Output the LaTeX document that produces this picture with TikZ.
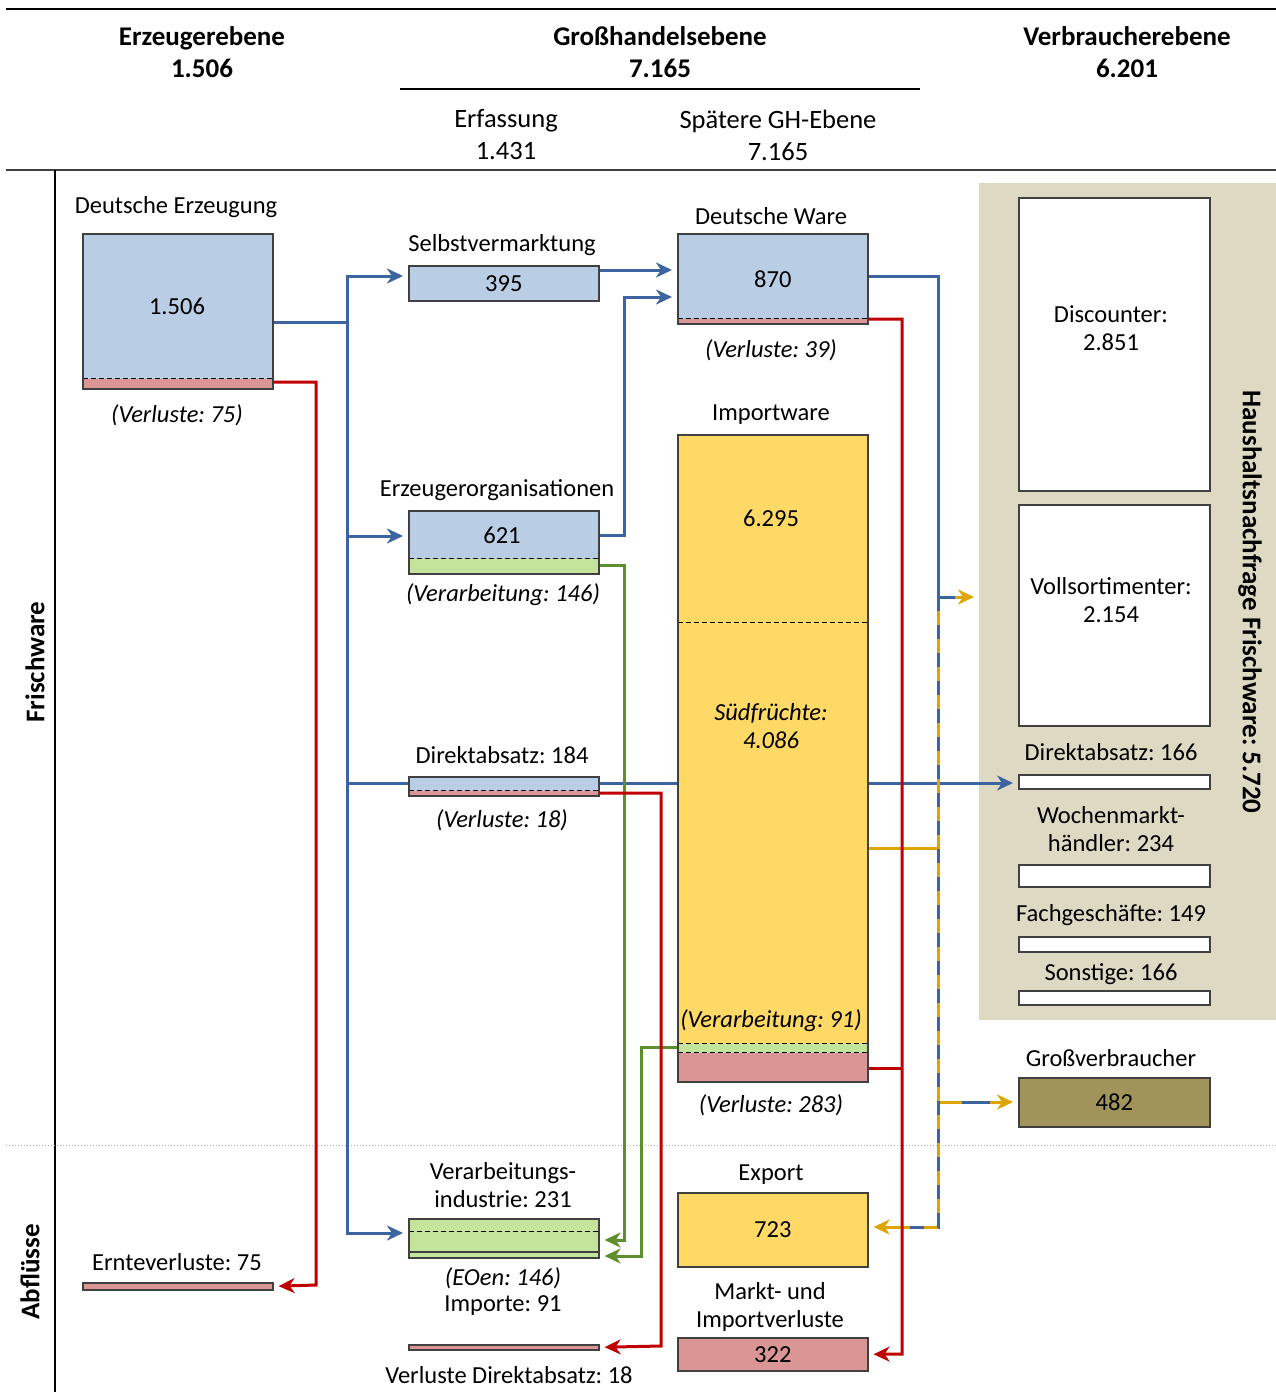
\documentclass[tikz,border=0pt]{standalone}
\usepackage{fontspec}
\setmainfont{Carlito}
\usetikzlibrary{arrows.meta}
\frenchspacing

\definecolor{fillBlue}{RGB}{185,205,229}
\definecolor{fillYellow}{RGB}{255,217,102}
\definecolor{fillRed}{RGB}{217,150,148}
\definecolor{fillGreen}{RGB}{196,228,155}
\definecolor{fillOlive}{RGB}{160,148,90}
\definecolor{panelBeige}{RGB}{221,217,195}
\definecolor{lineBlue}{RGB}{60,100,160}
\definecolor{lineRed}{RGB}{192,0,0}
\definecolor{lineGreen}{RGB}{94,143,44}
\definecolor{lineYellow}{RGB}{222,165,0}
\definecolor{boxGray}{RGB}{64,64,64}

\tikzset{
  bx/.style={draw=boxGray,line width=1.6pt,anchor=north west,minimum width=190pt,inner sep=0pt},
  cutline/.style={black,line width=1pt,dash pattern=on 5pt off 3pt},
  band/.style 2 args={path picture={
    \fill[#1] ([yshift=#2]path picture bounding box.south west) rectangle (path picture bounding box.south east);
    \draw[cutline] ([yshift=#2]path picture bounding box.south west) -- ([yshift=#2]path picture bounding box.south east);}},
  flow/.style={line width=3pt},
  arr/.style={flow,-{Stealth[length=16pt,width=15pt,inset=5pt]},shorten >=5pt},
  head/.style={inner sep=0pt,align=center,font=\bfseries\fontsize{27}{32}\selectfont},
  sub/.style={inner sep=0pt,align=center,font=\fontsize{26.5}{32}\selectfont},
  txt/.style={inner sep=0pt,align=center,font=\fontsize{24.5}{28}\selectfont},
  note/.style={inner sep=0pt,align=center,font=\itshape\fontsize{24.5}{28}\selectfont},
}

\begin{document}
\begin{tikzpicture}[x=1pt,y=-1pt]
\useasboundingbox (0,0) rectangle (1276,1392);

% frame and levels
\draw[line width=1.5pt] (6,9) -- (1276,9);
\draw[line width=1.5pt] (400,89) -- (920,89);
\draw[boxGray,line width=2pt] (6,170) -- (1276,170);
\draw[line width=1.5pt] (55,170) -- (55,1392);
\draw[gray!60,line width=1pt,dotted] (6,1145) -- (1276,1145);

\node[head] (hErz) at (202,52) {Erzeugerebene\\1.506};
\node[head] (hGH) at (660,52) {Großhandelsebene\\7.165};
\node[head] (hVb) at (1127,52) {Verbraucherebene\\6.201};
\node[sub] (hErf) at (506,135) {Erfassung\\1.431};
\node[sub] (hSp) at (778,135) {Spätere GH-Ebene\\7.165};

\node[head,rotate=90] (sFw) at (35,662) {Frischware};
\node[head,rotate=90] (sAb) at (30,1272) {Abflüsse};

% consumer panel
\fill[panelBeige] (979,183) rectangle (1276,1020);
\coordinate (panelIn) at (979,597);
\node[head,rotate=-90] (sHh) at (1250,602) {Haushaltsnachfrage Frischware: 5.720};

% boxes
\node[bx,fill=fillBlue,minimum height=155pt,band={fillRed}{10pt}] (de) at (82,233) {};
\node[bx,fill=fillBlue,minimum height=35pt] (sv) at (408,265) {\fontsize{24.5}{28}\selectfont 395};
\node[bx,fill=fillBlue,minimum height=90pt,band={fillRed}{5pt}] (dw) at (677,233) {\fontsize{24.5}{28}\selectfont 870};
\node[bx,fill=fillBlue,minimum height=63pt,band={fillGreen}{15pt}] (eo) at (408,510) {};
\node[bx,fill=fillBlue,minimum height=19pt,band={fillRed}{5pt}] (da) at (408,776) {};
\node[bx,fill=fillYellow,minimum height=647pt,path picture={
  \fill[fillGreen] ([yshift=38pt]path picture bounding box.south west) rectangle ([yshift=29pt]path picture bounding box.south east);
  \fill[fillRed] ([yshift=29pt]path picture bounding box.south west) rectangle (path picture bounding box.south east);
  \draw[cutline] ([yshift=-188pt]path picture bounding box.north west) -- ([yshift=-188pt]path picture bounding box.north east);
  \draw[cutline] ([yshift=38pt]path picture bounding box.south west) -- ([yshift=38pt]path picture bounding box.south east);
  \draw[cutline] ([yshift=29pt]path picture bounding box.south west) -- ([yshift=29pt]path picture bounding box.south east);}] (iw) at (677,434) {};
\node[bx,fill=fillGreen,minimum height=39pt,path picture={
  \draw[cutline] ([yshift=-13pt]path picture bounding box.north west) -- ([yshift=-13pt]path picture bounding box.north east);
  \draw[boxGray,line width=1.6pt] ([yshift=6pt]path picture bounding box.south west) -- ([yshift=6pt]path picture bounding box.south east);}] (vi) at (408,1218) {};
\node[bx,fill=fillRed,minimum height=7pt] (ev) at (82,1282) {};
\node[bx,fill=fillRed,minimum height=5pt] (vd) at (408,1344) {};
\node[bx,fill=fillYellow,minimum height=74pt] (ex) at (677,1192) {\fontsize{24.5}{28}\selectfont 723};
\node[bx,fill=fillRed,minimum height=33pt] (mv) at (677,1337) {\fontsize{24.5}{28}\selectfont 322};

\node[bx,fill=white,minimum width=191pt,minimum height=293pt] (dc) at (1018,197) {};
\node[bx,fill=white,minimum width=191pt,minimum height=221pt] (vs) at (1018,504) {};
\node[bx,fill=white,minimum width=191pt,minimum height=14pt] (hda) at (1018,774) {};
\node[bx,fill=white,minimum width=191pt,minimum height=22pt] (wm) at (1018,864) {};
\node[bx,fill=white,minimum width=191pt,minimum height=15pt] (fg) at (1018,936) {};
\node[bx,fill=white,minimum width=191pt,minimum height=14pt] (so) at (1018,990) {};
\node[bx,fill=fillOlive,minimum width=191pt,minimum height=49pt] (gv) at (1018,1077) {\fontsize{24.5}{28}\selectfont 482};

% texts
\node[txt] (deT) at (176,207) {Deutsche Erzeugung};
\node[txt] (deV) at (177,306) {1.506};
\node[note] (deL) at (177,415) {(Verluste: 75)};
\node[txt] (svT) at (502,245) {Selbstvermarktung};
\node[txt] (dwT) at (771,216) {Deutsche Ware};
\node[note] (dwL) at (771,350) {(Verluste: 39)};
\node[txt] (iwT) at (771,415) {Importware};
\node[txt] (iwV) at (771,518) {6.295};
\node[note] (iwS) at (771,726) {Südfrüchte:\\4.086};
\node[note] (iwP) at (771,1021) {(Verarbeitung: 91)};
\node[note] (iwL) at (771,1105) {(Verluste: 283)};
\node[txt] (eoT) at (497,490) {Erzeugerorganisationen};
\node[txt] (eoV) at (502,535) {621};
\node[note] (eoP) at (503,595) {(Verarbeitung: 146)};
\node[txt] (daT) at (502,755) {Direktabsatz: 184};
\node[note] (daL) at (502,820) {(Verluste: 18)};
\node[txt] (viT) at (503,1185) {Verarbeitungs-\\industrie: 231};
\node[note] (viE) at (503,1278) {(EOen: 146)};
\node[txt] (viI) at (503,1306) {Importe: 91};
\node[txt] (vdT) at (509,1375) {Verluste Direktabsatz: 18};
\node[txt] (evT) at (177,1262) {Ernteverluste: 75};
\node[txt] (exT) at (771,1175) {Export};
\node[txt] (mvT) at (770,1307) {Markt- und\\Importverluste};
\node[txt] (dcT) at (1111,328) {Discounter:\\2.851};
\node[txt] (vsT) at (1111,600) {Vollsortimenter:\\2.154};
\node[txt] (hdaT) at (1111,752) {Direktabsatz: 166};
\node[txt] (wmT) at (1111,829) {Wochenmarkt-\\händler: 234};
\node[txt] (fgT) at (1111,915) {Fachgeschäfte: 149};
\node[txt] (soT) at (1111,974) {Sonstige: 166};
\node[txt] (gvT) at (1111,1058) {Großverbraucher};

% blue flows (German goods)
\coordinate (split) at (347,322);
\draw[flow,lineBlue] (de.east |- split) -- (split);
\draw[arr,lineBlue] (split) |- (sv.west |- 0,276);
\draw[arr,lineBlue] (split) |- (eo.west |- 0,536);
\draw[flow,lineBlue] (split) |- (da.west |- 0,783);
\draw[arr,lineBlue] (split) |- (vi.west |- 0,1233);
\draw[arr,lineBlue] (sv.east |- 0,270) -- (dw.west |- 0,270);
\draw[arr,lineBlue] (eo.east |- 0,535) -| (624,297) -- (dw.west |- 0,297);
\draw[flow,lineBlue] (da.east |- 0,783) -- (iw.west |- 0,783);
\draw[arr,lineBlue] (iw.east |- 0,783) -- (hda.west |- 0,783);
\coordinate (mixTop) at (938,597);
\draw[flow,lineBlue] (dw.east |- 0,276) -| (mixTop);

% yellow flows (imports), mixed with blue
\draw[flow,lineYellow] (iw.east |- 0,848) -- (938,848);
\draw[arr,lineYellow] (mixTop) -- (panelIn);
\draw[arr,lineYellow] (938,1102) -- (gv.west |- 0,1102);
\draw[arr,lineYellow] (mixTop) -- (938,1227) -- (ex.east |- 0,1227);
\draw[flow,lineBlue,dash pattern=on 14pt off 14pt] (mixTop) -- (938,1227) -- (900,1227);
\draw[flow,lineBlue] (mixTop) -- (955,597);
\draw[flow,lineBlue] (962,1102) -- (990,1102);

% green flows (processing)
\draw[arr,lineGreen] (eo.east |- 0,565) -| (624,1240) -- (vi.east |- 0,1240);
\draw[arr,lineGreen] (iw.west |- 0,1047) -| (641,1256) -- (vi.east |- 0,1256);

% red flows (losses)
\draw[arr,lineRed] (de.east |- 0,382) -| (316,1285) -- (ev.east);
\draw[arr,lineRed] (da.east |- 0,793) -| (661,1346) -- (vd.east);
\draw[flow,lineRed] (iw.east |- 0,1068) -- (902,1068);
\draw[arr,lineRed] (dw.east |- 0,319) -| (902,1354) -- (mv.east);
\end{tikzpicture}
\end{document}
